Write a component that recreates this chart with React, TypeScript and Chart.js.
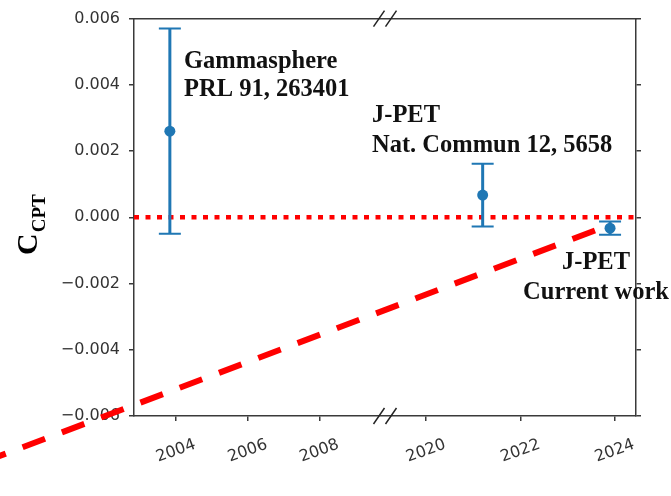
import React, { useEffect, useRef } from 'react';
import { Chart, registerables } from 'chart.js';

Chart.register(...registerables);

// ---- data ----
const SEGMENT_A = [2002.83, 2009.83];
const SEGMENT_B = [2019.13, 2024.45];
const X_TICK_YEARS = [2004, 2006, 2008, 2020, 2022, 2024];
const Y_TICKS = [-0.006, -0.004, -0.002, 0, 0.002, 0.004, 0.006];
const MEASUREMENT_YEARS = [2003.83, 2021.2, 2023.9];
const MEASUREMENT_VALUES = [0.0026, 0.00067, -0.00033];
const MEASUREMENT_ERRORS = [0.0031, 0.00095, 0.0002];
const MEASUREMENT_LABELS = [
  ['Gammasphere', 'PRL 91, 263401'],
  ['J-PET', 'Nat. Commun 12, 5658'],
  ['J-PET', 'Current work'],
];
const REFERENCE_YEARS = [SEGMENT_A[0], SEGMENT_B[1]];
const REFERENCE_VALUES = [0, 0];
const TREND_YEARS = [2023.58, 1998.0];
const TREND_VALUES = [-0.0004, -0.00765];
const Y_TITLE_MAIN = 'C';
const Y_TITLE_SUB = 'CPT';

// ---- broken-axis mapping ----
const SEG_SPAN = SEGMENT_A[1] - SEGMENT_A[0];
const BREAK_SPLIT = (SEGMENT_A[1] + SEGMENT_B[0]) / 2;
function toVirtual(year: number): number {
  if (year < BREAK_SPLIT) return year - SEGMENT_A[0];
  return SEG_SPAN + ((year - SEGMENT_B[0]) * SEG_SPAN) / (SEGMENT_B[1] - SEGMENT_B[0]);
}
const X_MIN = toVirtual(SEGMENT_A[0]);
const X_MAX = toVirtual(SEGMENT_B[1]);
const X_BREAK = SEG_SPAN;

const AXIS = '#3a3a3a';
const BLUE = '#1f77b4';
const RED = '#ff0000';
const TICK_FONT = '16px "DejaVu Sans"';

function fmt(v: number): string {
  const s = Math.abs(v).toFixed(3);
  return v < -1e-12 ? '\u2212' + s : s;
}

const overlayPlugin = {
  id: 'overlay',
  beforeDatasetDraw(chart: any, args: any) {
    if (args.index !== 1) return;
    const ctx = chart.ctx;
    const xs = chart.scales.x;
    const ys = chart.scales.y;
    ctx.save();
    ctx.strokeStyle = BLUE;
    MEASUREMENT_YEARS.forEach((yr, i) => {
      const px = xs.getPixelForValue(toVirtual(yr));
      const top = ys.getPixelForValue(MEASUREMENT_VALUES[i] + MEASUREMENT_ERRORS[i]);
      const bot = ys.getPixelForValue(MEASUREMENT_VALUES[i] - MEASUREMENT_ERRORS[i]);
      ctx.lineWidth = 3;
      ctx.beginPath();
      ctx.moveTo(px, top);
      ctx.lineTo(px, bot);
      ctx.stroke();
      ctx.lineWidth = 2;
      ctx.beginPath();
      ctx.moveTo(px - 11, top);
      ctx.lineTo(px + 11, top);
      ctx.moveTo(px - 11, bot);
      ctx.lineTo(px + 11, bot);
      ctx.stroke();
    });
    ctx.restore();
  },
  afterDraw(chart: any) {
    const ctx = chart.ctx;
    const xs = chart.scales.x;
    const area = chart.chartArea;
    ctx.save();
    // x tick labels, rotated and centered on ticks
    ctx.font = TICK_FONT;
    ctx.fillStyle = '#333';
    ctx.textAlign = 'center';
    ctx.textBaseline = 'middle';
    X_TICK_YEARS.forEach((yr) => {
      const px = xs.getPixelForValue(toVirtual(yr));
      ctx.save();
      ctx.translate(px, area.bottom + 35);
      ctx.rotate((-20 * Math.PI) / 180);
      ctx.fillText(String(yr), 0, 0);
      ctx.restore();
    });
    // break marks
    const bx = xs.getPixelForValue(X_BREAK);
    ctx.strokeStyle = '#222';
    ctx.lineWidth = 1.5;
    [area.top, area.bottom].forEach((by) => {
      [-6, 6].forEach((off) => {
        ctx.beginPath();
        ctx.moveTo(bx + off - 5.5, by + 8);
        ctx.lineTo(bx + off + 5.5, by - 8);
        ctx.stroke();
      });
    });
    // y axis title
    ctx.fillStyle = '#000';
    ctx.textAlign = 'left';
    ctx.textBaseline = 'alphabetic';
    ctx.save();
    ctx.translate(37, 255);
    ctx.rotate(-Math.PI / 2);
    ctx.font = 'bold 30px "Liberation Serif"';
    ctx.fillText(Y_TITLE_MAIN, 0, 0);
    const w = ctx.measureText(Y_TITLE_MAIN).width;
    ctx.font = 'bold 19px "Liberation Serif"';
    ctx.fillText(Y_TITLE_SUB, w + 1, 8);
    ctx.restore();
    // annotations
    ctx.font = 'bold 24.5px "Liberation Serif"';
    ctx.fillStyle = '#111';
    const places = [
      { x: 184, y: [68, 96], align: 'left' },
      { x: 372, y: [122, 152], align: 'left' },
      { x: 596, y: [269, 299], align: 'center' },
    ];
    MEASUREMENT_LABELS.forEach((lines, i) => {
      const p = places[i];
      ctx.textAlign = p.align;
      lines.forEach((t, j) => ctx.fillText(t, p.x, p.y[j]));
    });
    ctx.restore();
  },
};

export default function App() {
  const ref = useRef<HTMLCanvasElement | null>(null);
  useEffect(() => {
    if (!ref.current) return;
    const setTicks = (s: any) => {
      s.ticks = Y_TICKS.map((v) => ({ value: v }));
    };
    const grid = {
      display: true,
      drawOnChartArea: false,
      drawTicks: true,
      tickLength: 5,
      color: AXIS,
      lineWidth: 1.5,
    };
    const border = { display: true, color: AXIS, width: 1.5 };
    const chart = new Chart(ref.current, {
      type: 'scatter',
      data: {
        datasets: [
          {
            data: REFERENCE_YEARS.map((yr, i) => ({ x: toVirtual(yr), y: REFERENCE_VALUES[i] })),
            showLine: true,
            borderColor: RED,
            borderWidth: 4.5,
            borderDash: [5, 6.5],
            pointRadius: 0,
            order: 3,
          },
          {
            data: MEASUREMENT_YEARS.map((yr, i) => ({ x: toVirtual(yr), y: MEASUREMENT_VALUES[i] })),
            pointRadius: 5.5,
            pointBackgroundColor: BLUE,
            pointBorderColor: BLUE,
            pointBorderWidth: 0,
            order: 2,
          },
          {
            data: TREND_YEARS.map((yr, i) => ({ x: toVirtual(yr), y: TREND_VALUES[i] })),
            showLine: true,
            borderColor: RED,
            borderWidth: 6,
            borderDash: [24, 18],
            borderCapStyle: 'butt',
            pointRadius: 0,
            clip: false,
            order: 1,
          } as any,
        ],
      },
      options: {
        animation: false,
        responsive: false,
        devicePixelRatio: 1,
        layout: { padding: 0 },
        plugins: { legend: { display: false }, tooltip: { enabled: false } },
        scales: {
          x: {
            type: 'linear',
            position: 'bottom',
            min: X_MIN,
            max: X_MAX,
            afterBuildTicks: (s: any) => {
              s.ticks = X_TICK_YEARS.map((yr) => ({ value: toVirtual(yr) }));
            },
            ticks: { display: false },
            grid,
            border,
            afterFit: (s: any) => {
              s.height = 80;
            },
          },
          xTop: {
            type: 'linear',
            position: 'top',
            min: X_MIN,
            max: X_MAX,
            ticks: { display: false },
            grid: { display: false },
            border,
            afterFit: (s: any) => {
              s.height = 16;
            },
          },
          y: {
            type: 'linear',
            position: 'left',
            min: Y_TICKS[0],
            max: Y_TICKS[Y_TICKS.length - 1],
            afterBuildTicks: setTicks,
            ticks: {
              autoSkip: false,
              padding: 9,
              color: '#333',
              font: { family: '"DejaVu Sans"', size: 16 },
              callback: (v: any) => fmt(Number(v)),
            },
            grid,
            border,
            afterFit: (s: any) => {
              s.width = 134;
            },
          },
          yR: {
            type: 'linear',
            position: 'right',
            min: Y_TICKS[0],
            max: Y_TICKS[Y_TICKS.length - 1],
            afterBuildTicks: setTicks,
            ticks: { display: false },
            grid,
            border,
            afterFit: (s: any) => {
              s.width = 35;
            },
          },
        },
      } as any,
      plugins: [overlayPlugin],
    });
    return () => chart.destroy();
  }, []);
  return (
    <div style={{ position: 'fixed', left: 0, top: 0, width: 671, height: 496, background: '#fff' }}>
      <canvas ref={ref} width={671} height={496} style={{ display: 'block' }} />
    </div>
  );
}
